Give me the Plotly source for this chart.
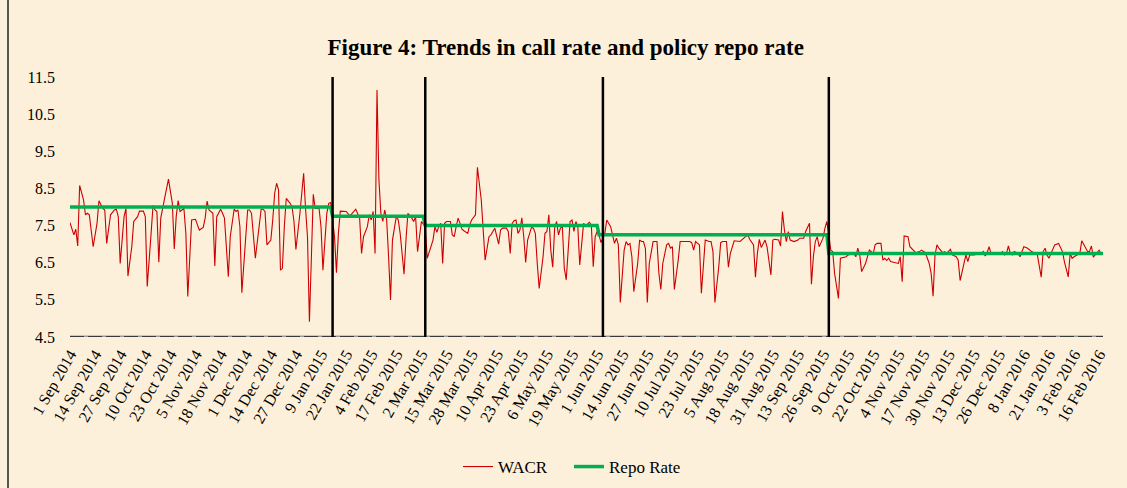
import pandas as pd
import plotly.graph_objects as go

START_DATE = "2014-09-01"
END_DATE = "2016-02-18"

# WACR: (days since 1 Sep 2014, value %)
wacr_days = [
    0, 1, 2, 3, 4, 5, 7, 8, 9, 10, 11, 12, 14, 15, 17, 18, 19, 21, 23, 24, 25, 26, 28, 29, 30, 32, 33, 35, 36, 38, 39,
    40, 42, 43, 44, 45, 46, 47, 49, 50, 51, 53, 54, 55, 56, 57, 59, 60, 61, 63, 65, 66, 67, 69, 70, 71, 72, 74, 75,
    76, 78, 79, 80, 82, 83, 85, 86, 87, 88, 89, 91, 92, 93, 94, 96, 98, 99, 100, 101, 102, 104, 105, 106, 107, 108,
    109, 110, 111, 112, 114, 115, 116, 117, 119, 120, 121, 122, 123, 124, 125, 126, 127, 129, 130, 131, 133, 134,
    135, 137, 138, 139, 140, 142, 143, 145, 146, 147, 148, 150, 151, 152, 154, 155, 156, 157, 158, 159, 160, 161,
    162, 163, 164, 165, 166, 167, 169, 170, 171, 172, 173, 174, 175, 177, 178, 179, 180, 181, 182, 183, 184, 185,
    186, 188, 189, 190, 191, 192, 193, 194, 195, 197, 198, 199, 200, 201, 202, 203, 204, 205, 206, 207, 208, 210,
    211, 213, 214, 215, 217, 218, 219, 220, 222, 223, 224, 226, 227, 228, 229, 230, 231, 232, 233, 234, 235, 236,
    237, 239, 240, 241, 242, 243, 245, 246, 247, 248, 249, 250, 251, 252, 253, 254, 255, 256, 257, 258, 259, 260,
    261, 262, 263, 264, 266, 267, 269, 270, 271, 272, 273, 274, 275, 277, 278, 280, 281, 282, 283, 284, 285, 287,
    288, 289, 290, 291, 292, 294, 295, 296, 297, 298, 299, 300, 302, 303, 304, 305, 306, 307, 309, 310, 311, 312,
    313, 315, 316, 318, 320, 321, 322, 323, 324, 326, 327, 328, 329, 331, 332, 333, 334, 336, 337, 338, 340, 341,
    342, 344, 345, 347, 349, 351, 352, 354, 355, 356, 357, 358, 360, 361, 363, 364, 365, 367, 368, 369, 370, 371,
    372, 373, 375, 377, 378, 380, 381, 383, 384, 385, 386, 387, 388, 390, 391, 392, 393, 394, 395, 396, 398, 399,
    402, 403, 405, 406, 407, 408, 409, 410, 412, 413, 414, 416, 417, 418, 420, 421, 422, 423, 424, 425, 427, 429,
    430, 431, 432, 434, 435, 437, 438, 440, 441, 443, 444, 445, 446, 447, 448, 449, 450, 452, 453, 454, 456, 457,
    459, 460, 461, 463, 464, 465, 466, 468, 470, 472, 473, 474, 475, 476, 477, 478, 480, 482, 483, 484, 485, 486,
    487, 488, 489, 491, 492, 493, 494, 496, 497, 498, 500, 501, 503, 504, 505, 506, 507, 509, 510, 512, 513, 514,
    515, 517, 518, 519, 520, 522, 523, 524, 525, 527, 528, 529, 530, 532, 533, 534, 535,
]
wacr_values = [
    7.58, 7.38, 7.25, 7.40, 6.95, 8.58, 8.19, 7.79, 7.83, 7.79, 7.38, 6.93, 7.56, 8.17, 7.96, 7.92, 7.02, 7.79, 7.92,
    7.94, 7.74, 6.48, 7.74, 7.96, 6.14, 6.93, 7.61, 7.74, 7.89, 7.89, 7.74,
    5.86, 7.29, 8.04, 7.92, 7.88, 6.51, 7.70, 8.23, 8.55, 8.75, 8.10, 6.87, 7.74, 8.17, 7.88, 7.96, 7.29, 5.59, 7.65,
    7.67, 7.52, 7.38, 7.45, 7.70, 8.16, 7.92, 7.83, 6.41,
    7.74, 7.94, 7.83, 7.70, 6.12, 7.20, 7.94, 7.88, 7.92, 7.47, 5.69, 7.38, 7.92, 7.92, 7.83, 6.62, 7.47, 7.94, 7.94,
    7.88, 6.98, 7.11, 7.65, 8.37, 8.64, 8.46,
    6.30, 6.35, 7.47, 8.23, 8.10, 8.01, 7.61, 6.86, 7.79, 8.30, 8.91, 7.96, 7.20, 4.91, 6.66, 8.34, 7.96, 7.96, 7.47,
    6.30, 7.83, 8.10,
    8.12, 7.20, 6.23, 7.29, 7.89, 7.89, 7.88, 7.76, 7.83, 7.89, 7.94, 7.70, 6.75, 7.20, 7.47, 7.79, 7.65, 7.88, 6.75,
    11.15, 8.73, 7.83,
    7.61, 7.92, 7.65, 6.66, 5.50, 7.11, 7.74, 7.65, 7.29, 6.75, 6.19, 7.11, 7.83, 7.70, 7.61, 7.74, 6.80, 7.20, 7.61,
    7.54, 7.47, 6.62,
    6.80, 7.11, 7.47, 7.32, 7.47, 7.56, 6.48, 7.56, 7.61, 7.61, 7.25, 7.20, 7.47, 7.70, 7.56, 7.40, 7.36, 7.32, 7.29,
    7.52, 7.65, 7.79,
    9.07, 8.19, 7.25, 6.57, 7.20, 7.25, 7.34, 7.43, 7.00, 7.38, 7.43, 7.43, 7.34, 6.75, 7.56, 7.63, 7.65, 7.29, 7.38,
    7.71, 7.20, 6.51,
    7.11, 7.45, 7.43, 7.29, 6.48, 5.81, 6.66, 7.29, 7.34, 7.79, 6.84, 6.38, 7.43, 7.61, 7.25, 7.43, 7.47, 6.35, 6.04,
    6.93, 7.61, 7.65,
    7.34, 7.61, 7.47, 6.44, 7.56, 7.49, 7.59, 7.52, 6.39, 7.20, 7.34, 7.25, 7.04, 7.29, 7.65, 7.47, 7.20, 7.02, 7.16,
    6.98, 5.43, 6.84,
    7.07, 6.98, 7.02, 6.66, 5.72, 6.48, 7.11, 7.07, 7.07, 6.89, 5.43, 6.48, 7.07, 7.07, 7.07, 6.21, 5.78, 6.48, 6.98,
    7.02, 6.89, 6.93,
    5.78, 6.57, 7.07, 7.07, 7.07, 7.07, 7.04, 6.84, 7.07, 6.98, 5.68, 6.44, 7.11, 7.07, 7.07, 6.80, 5.43, 6.39, 7.04,
    7.07, 7.07, 6.38,
    6.75, 7.09, 7.09, 7.07, 7.16, 7.25, 7.13, 6.98, 6.11, 6.75, 7.13, 6.91, 7.11, 6.93, 6.17, 7.11, 7.13, 7.11, 6.95,
    7.88, 7.38, 7.07,
    7.34, 7.11, 7.07, 7.11, 7.16, 7.16, 7.34, 7.56, 5.92, 6.66, 7.07, 7.20, 6.93, 7.16, 7.43, 7.61, 7.25, 6.84, 6.80,
    6.21, 5.54, 6.62,
    6.66, 6.71, 6.74, 6.75, 6.66, 6.89, 6.71, 6.26, 6.48, 6.66, 6.84, 6.75, 6.98, 7.02, 7.02, 6.57, 6.62, 6.56, 6.62,
    6.53, 6.50, 6.48,
    6.66, 5.99, 7.22, 7.20, 6.93, 6.82, 6.77, 6.80, 6.84, 6.77, 6.62, 6.48, 6.21, 5.60, 6.71, 6.98, 6.89, 6.77, 6.80,
    6.75, 6.86, 6.71,
    6.66, 6.57, 6.02, 6.44, 6.71, 6.53, 6.71, 6.71, 6.73, 6.75, 6.80, 6.68, 6.77, 6.93, 6.75, 6.75, 6.77, 6.75, 6.80,
    6.71, 6.75, 6.95,
    6.75, 6.71, 6.80, 6.75, 6.66, 6.80, 6.93, 6.89, 6.84, 6.80, 6.75, 6.71, 6.11, 6.80, 6.89, 6.71, 6.62, 6.89, 6.98,
    7.02, 6.93, 6.80,
    6.53, 6.12, 6.75, 6.62, 6.66, 6.71, 6.75, 7.09, 6.98, 6.80, 6.80, 6.95, 6.65, 6.77, 6.84, 6.75, 6.77,
]

# Policy repo rate (step changes)
repo_dates = ["2014-09-01", "2015-01-14", "2015-01-15", "2015-03-03", "2015-03-04",
              "2015-06-01", "2015-06-02", "2015-09-28", "2015-09-29", "2016-02-18"]
repo_values = [8.00, 8.00, 7.75, 7.75, 7.50, 7.50, 7.25, 7.25, 6.75, 6.75]

# Policy announcement dates (vertical markers)
policy_dates = ["2015-01-15", "2015-03-04", "2015-06-04", "2015-09-29"]

tick_labels = [
    "1 Sep 2014", "14 Sep 2014", "27 Sep 2014", "10 Oct 2014", "23 Oct 2014", "5 Nov 2014", "18 Nov 2014",
    "1 Dec 2014", "14 Dec 2014", "27 Dec 2014", "9 Jan 2015", "22 Jan 2015", "4 Feb 2015", "17 Feb 2015",
    "2 Mar 2015", "15 Mar 2015", "28 Mar 2015", "10 Apr 2015", "23 Apr 2015", "6 May 2015", "19 May 2015",
    "1 Jun 2015", "14 Jun 2015", "27 Jun 2015", "10 Jul 2015", "23 Jul 2015", "5 Aug 2015", "18 Aug 2015",
    "31 Aug 2015", "13 Sep 2015", "26 Sep 2015", "9 Oct 2015", "22 Oct 2015", "4 Nov 2015", "17 Nov 2015",
    "30 Nov 2015", "13 Dec 2015", "26 Dec 2015", "8 Jan 2016", "21 Jan 2016", "3 Feb 2016", "16 Feb 2016",
]
y_ticks = [4.5, 5.5, 6.5, 7.5, 8.5, 9.5, 10.5, 11.5]

start = pd.Timestamp(START_DATE)
wacr_dates = [start + pd.Timedelta(days=d) for d in wacr_days]
tick_vals = [pd.to_datetime(t, format="%d %b %Y") for t in tick_labels]

BG = "#FDF0DA"
FONT = "Liberation Serif"

fig = go.Figure()
fig.add_trace(go.Scatter(x=wacr_dates, y=wacr_values, mode="lines", name="WACR",
                         line=dict(color="#CC0000", width=1.1)))
fig.add_trace(go.Scatter(x=pd.to_datetime(repo_dates), y=repo_values, mode="lines", name="Repo Rate",
                         line=dict(color="#00B050", width=3.5)))

for d in policy_dates:
    fig.add_shape(type="line", xref="x", yref="y", x0=d, x1=d, y0=y_ticks[0], y1=y_ticks[-1],
                  line=dict(color="black", width=2.5), layer="above")

# dashed base axis line
fig.add_shape(type="line", xref="paper", yref="y", x0=0, x1=1, y0=y_ticks[0], y1=y_ticks[0],
              line=dict(color="#9a9a9a", width=3), layer="below")
fig.add_shape(type="line", xref="paper", yref="y", x0=0, x1=1, y0=y_ticks[0], y1=y_ticks[0],
              line=dict(color="#3a3a3a", width=2, dash="14px,4px"), layer="below")
# left frame line
fig.add_shape(type="line", xref="paper", yref="paper", x0=-62 / 1033, x1=-62 / 1033, y0=-0.6, y1=1.3,
              line=dict(color="#222222", width=1.5))

fig.update_layout(
    width=1127, height=488,
    margin=dict(l=70, r=24, t=77, b=151, autoexpand=False),
    paper_bgcolor=BG, plot_bgcolor=BG,
    font=dict(family=FONT, color="black", size=14),
    title=dict(text="<b>Figure 4: Trends in call rate and policy repo rate</b>",
               x=0.502, xref="container", xanchor="center",
               y=1 - 47 / 488, yref="container", yanchor="middle",
               font=dict(family=FONT, size=23, color="black")),
    showlegend=True,
    legend=dict(orientation="h", x=(458 - 70) / 1033, xanchor="left", y=-0.5, yanchor="middle",
                bgcolor="rgba(0,0,0,0)", font=dict(family=FONT, size=17), entrywidth=66,
                entrywidthmode="pixels"),
    xaxis=dict(type="date", range=[START_DATE, END_DATE], tickmode="array", tickvals=tick_vals,
               ticktext=tick_labels, tickangle=-60, showgrid=False, zeroline=False, showline=False,
               ticks="", tickfont=dict(family=FONT, size=16), ticklabelstandoff=4),
    yaxis=dict(range=[y_ticks[0], y_ticks[-1]], tickmode="array", tickvals=y_ticks,
               ticktext=[f"{v:.1f}" for v in y_ticks], showgrid=False, zeroline=False, showline=False,
               ticks="", tickfont=dict(family=FONT, size=16), ticklabelstandoff=14),
)

fig.write_html("out.html", config={"displayModeBar": False},
               post_script="document.body.style.margin='0';document.body.style.padding='0';")
